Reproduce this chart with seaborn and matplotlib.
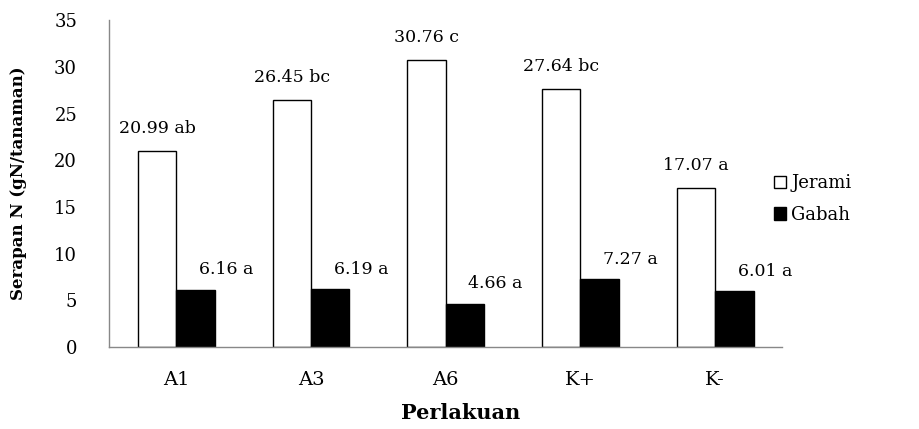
import pandas as pd
import matplotlib
matplotlib.use('Agg')
import matplotlib.pyplot as plt
import seaborn as sns
from matplotlib.patches import Patch

perlakuan = ["A1", "A3", "A6", "K+", "K-"]
jerami = [20.99, 26.45, 30.76, 27.64, 17.07]
gabah = [6.16, 6.19, 4.66, 7.27, 6.01]
jerami_notasi = ["ab", "bc", "c", "bc", "a"]
gabah_notasi = ["a", "a", "a", "a", "a"]

df = pd.DataFrame({
    "Perlakuan": perlakuan * 2,
    "Serapan": jerami + gabah,
    "Bagian": ["Jerami"] * 5 + ["Gabah"] * 5,
})

sns.set_style("white")
plt.rcParams['font.family'] = ['DejaVu Serif', 'Liberation Serif']
plt.rcParams['text.color'] = 'black'
plt.rcParams['axes.labelcolor'] = 'black'
plt.rcParams['xtick.color'] = 'black'
plt.rcParams['ytick.color'] = 'black'

fig = plt.figure(figsize=(9.2, 4.29), dpi=100)
ax = fig.add_axes([0.1185, 0.191, 0.732, 0.762])

sns.barplot(data=df, x="Perlakuan", y="Serapan", hue="Bagian",
            palette={"Jerami": "white", "Gabah": "black"},
            edgecolor="black", linewidth=1, width=0.57, gap=0,
            legend=False, ax=ax)

# data labels
notasi = [jerami_notasi, gabah_notasi]
nilai = [jerami, gabah]
for k, cont in enumerate(ax.containers):
    for i, bar in enumerate(cont):
        xc = bar.get_x() + bar.get_width() / 2
        h = bar.get_height()
        dx = 0 if k == 0 else 22
        ax.annotate(f"{nilai[k][i]:.2f} {notasi[k][i]}", (xc, h),
                    xytext=(dx, 8 if k == 1 else 10), textcoords="offset points",
                    ha="center", va="bottom", fontsize=12.5, color="black")

ax.set_xlim(-0.5, 4.5)
ax.set_ylim(0, 35)
ax.set_yticks(range(0, 36, 5))
ax.tick_params(axis="y", direction="out", length=7, color="#888888",
               labelcolor="black", labelsize=13, pad=16)
ax.tick_params(axis="x", length=0, labelsize=14, pad=17, labelcolor="black")
for s in ["top", "right"]:
    ax.spines[s].set_visible(False)
for s in ["left", "bottom"]:
    ax.spines[s].set_color("#888888")
    ax.spines[s].set_linewidth(1)

ax.set_ylabel("Serapan N (gN/tanaman)", fontsize=12, fontweight="bold")
ax.yaxis.set_label_coords(-0.122, 0.5)
ax.set_xlabel("Perlakuan", fontsize=15, fontweight="bold")
ax.xaxis.set_label_coords(0.522, -0.172)

handles = [Patch(facecolor="white", edgecolor="black", linewidth=1, label="Jerami"),
           Patch(facecolor="black", edgecolor="black", linewidth=1, label="Gabah")]
fig.legend(handles=handles, loc="center left", bbox_to_anchor=(0.824, 0.536),
           frameon=False, fontsize=13, handlelength=0.65, handleheight=0.65,
           handletextpad=0.3, labelspacing=0.75)

fig.savefig("out.png", dpi=100)
